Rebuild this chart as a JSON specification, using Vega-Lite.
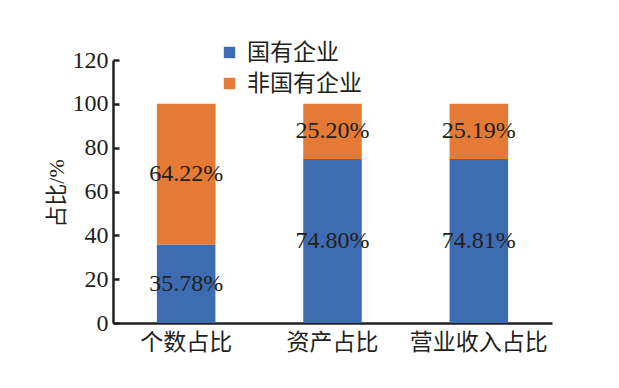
{
  "$schema": "https://vega.github.io/schema/vega-lite/v6.json",
  "autosize": "none",
  "width": 439,
  "height": 263,
  "padding": {"left": 113, "top": 60, "right": 67, "bottom": 65},
  "background": "white",
  "config": {
    "view": {"stroke": null},
    "font": "Liberation Serif, Noto Sans CJK SC",
    "axis": {"grid": false, "domainColor": "#231f20", "tickColor": "#231f20", "labelColor": "#231f20", "titleColor": "#231f20", "domainWidth": 2.5, "tickWidth": 2.5, "labelFont": "Liberation Serif, Noto Sans CJK SC", "titleFont": "Liberation Serif, Noto Sans CJK SC"}
  },
  "data": {
    "values": [
      {"cat": "个数占比", "group": "国有企业", "rank": 1, "value": 35.78},
      {"cat": "个数占比", "group": "非国有企业", "rank": 2, "value": 64.22},
      {"cat": "资产占比", "group": "国有企业", "rank": 1, "value": 74.80},
      {"cat": "资产占比", "group": "非国有企业", "rank": 2, "value": 25.20},
      {"cat": "营业收入占比", "group": "国有企业", "rank": 1, "value": 74.81},
      {"cat": "营业收入占比", "group": "非国有企业", "rank": 2, "value": 25.19}
    ]
  },
  "transform": [
    {"stack": "value", "groupby": ["cat"], "sort": [{"field": "rank"}], "as": ["v0", "v1"]},
    {"calculate": "(datum.v0 + datum.v1) / 2", "as": "mid"},
    {"calculate": "format(datum.value, '.2f') + '%'", "as": "label"}
  ],
  "encoding": {
    "x": {
      "field": "cat", "type": "nominal", "sort": ["个数占比", "资产占比", "营业收入占比"],
      "scale": {"paddingInner": 0.6, "paddingOuter": 0.3},
      "axis": {"title": null, "labelAngle": 0, "ticks": false, "labelFontSize": 23, "labelPadding": 8}
    }
  },
  "layer": [
    {
      "mark": {"type": "bar"},
      "encoding": {
        "y": {
          "field": "v0", "type": "quantitative",
          "scale": {"domain": [0, 120], "nice": false},
          "axis": {"values": [0, 20, 40, 60, 80, 100, 120], "tickSize": -6, "labelPadding": 11, "labelFontSize": 24, "title": "占比/%", "titleFontSize": 22, "titleFontWeight": "normal", "titleX": -57, "titleY": 133, "titleAngle": -90, "titleBaseline": "middle", "titleAlign": "center"}
        },
        "y2": {"field": "v1"},
        "color": {
          "field": "group", "type": "nominal",
          "scale": {"domain": ["国有企业", "非国有企业"], "range": ["#3d6cb3", "#e47a35"]},
          "legend": {"title": null, "orient": "none", "legendX": 105, "legendY": -19, "padding": 0, "symbolType": "square", "symbolSize": 130, "symbolStrokeWidth": 0, "labelFontSize": 23, "labelColor": "#231f20", "labelFont": "Liberation Serif, Noto Sans CJK SC", "rowPadding": 7, "labelOffset": 6}
        }
      }
    },
    {
      "mark": {"type": "text", "fontSize": 24, "color": "#231f20", "baseline": "middle", "align": "center"},
      "encoding": {
        "y": {"field": "mid", "type": "quantitative"},
        "text": {"field": "label"}
      }
    }
  ]
}
